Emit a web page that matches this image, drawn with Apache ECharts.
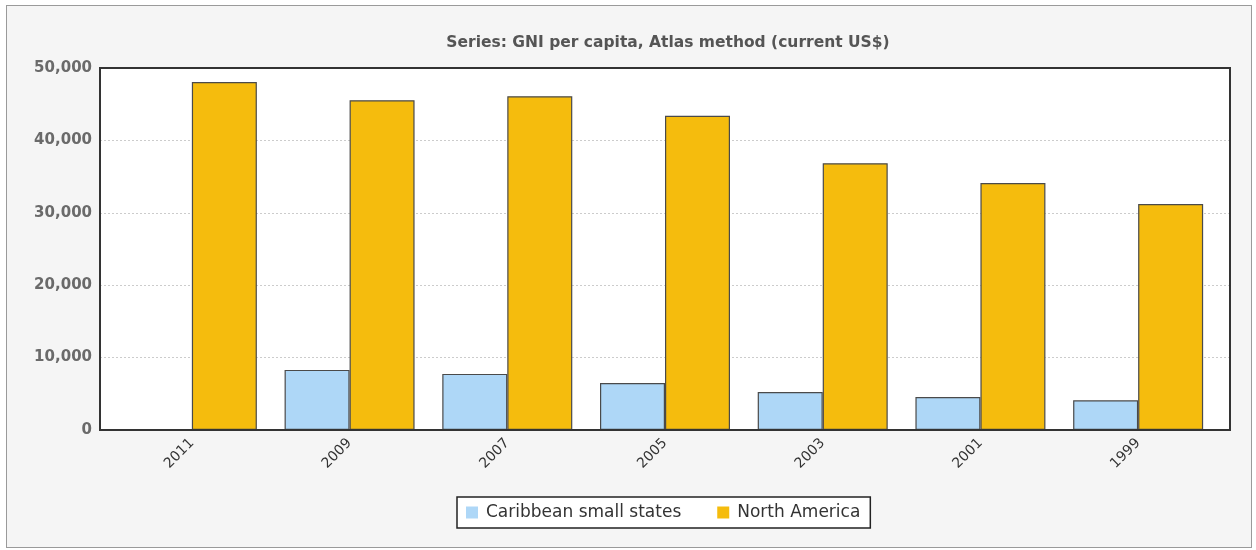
<!DOCTYPE html>
<html><head><meta charset="utf-8">
<script src="https://cdn.jsdelivr.net/npm/echarts@6/dist/echarts.min.js"></script>
<style>
html,body{margin:0;padding:0;background:#fff;}
#frame{position:absolute;left:6px;top:5px;width:1244px;height:541px;background:#f5f5f5;border:1.5px solid #9a9a9a;}
#chart{position:absolute;left:0;top:0;width:1256px;height:550px;}
</style></head>
<body>
<div id="frame"></div>
<div id="chart"></div>
<script>
const titleText = 'Series: GNI per capita, Atlas method (current US$)';
const years = ['2011','2009','2007','2005','2003','2001','1999'];
const caribbean = [null, 8300, 7750, 6500, 5250, 4550, 4100];
const northAmerica = [48050, 45550, 46100, 43400, 36850, 34100, 31200];
const seriesNames = ['Caribbean small states', 'North America'];
const yMin = 0, yMax = 50000, yStep = 10000;

const chart = echarts.init(document.getElementById('chart'), null, {renderer:'canvas'});
const font = 'DejaVu Sans, Verdana, sans-serif';
chart.setOption({
  backgroundColor: 'transparent',
  animation: false,
  title: {
    text: titleText, left: 663, top: 30, textAlign: 'center',
    textStyle: {fontFamily: font, fontSize: 15.5, fontWeight: 'bold', color: '#555'}
  },
  legend: {
    data: seriesNames, left: 457, top: 497,
    orient: 'horizontal',
    icon: 'rect', itemWidth: 12, itemHeight: 12, itemGap: 36,
    itemStyle: {borderWidth: 0},
    backgroundColor: '#fff', borderColor: '#222', borderWidth: 1.5, borderRadius: 0,
    padding: [7, 10, 7, 9],
    textStyle: {fontFamily: font, fontSize: 17, color: '#333', padding: [0, 0, 0, 3]}
  },
  grid: [
    {left: 113, right: 39, top: 68, bottom: 120, show: false},
    {left: 100, right: 26, top: 68, bottom: 120, show: true, backgroundColor: '#fff', borderWidth: 0, z: -1},
    {left: 100, right: 26, top: 68, bottom: 120, show: true, backgroundColor: 'transparent', borderColor: '#333', borderWidth: 2, z: 10}
  ],
  xAxis: [
    {type: 'category', gridIndex: 0, data: years,
      axisLine: {show: false}, axisTick: {show: false},
      axisLabel: {rotate: 45, margin: 11, fontFamily: font, fontSize: 14, color: '#333'}},
    {type: 'category', gridIndex: 1, data: years, show: false},
    {type: 'category', gridIndex: 2, data: years, show: false}
  ],
  yAxis: [
    {type: 'value', gridIndex: 0, min: yMin, max: yMax, interval: yStep, show: false, splitLine: {show: false}},
    {type: 'value', gridIndex: 1, min: yMin, max: yMax, interval: yStep,
      axisLine: {show: false}, axisTick: {show: false},
      axisLabel: {margin: 8, fontFamily: font, fontSize: 15, fontWeight: 'bold', color: '#6a6a6a',
        formatter: v => v.toLocaleString('en-US')},
      splitLine: {show: true, lineStyle: {color: '#ccc', type: [2, 2], width: 1}}},
    {type: 'value', gridIndex: 2, min: yMin, max: yMax, interval: yStep, show: false, splitLine: {show: false}}
  ],
  series: [
    {name: seriesNames[0], type: 'bar', xAxisIndex: 0, yAxisIndex: 0, data: caribbean,
      barWidth: 65, barGap: '0%',
      itemStyle: {color: '#aed7f7', borderColor: '#4a4a4a', borderWidth: 1.2}},
    {name: seriesNames[1], type: 'bar', xAxisIndex: 0, yAxisIndex: 0, data: northAmerica,
      barWidth: 65, barGap: '0%',
      itemStyle: {color: '#f5bc0d', borderColor: '#4a4a4a', borderWidth: 1.2}}
  ]
});
</script>
</body></html>
